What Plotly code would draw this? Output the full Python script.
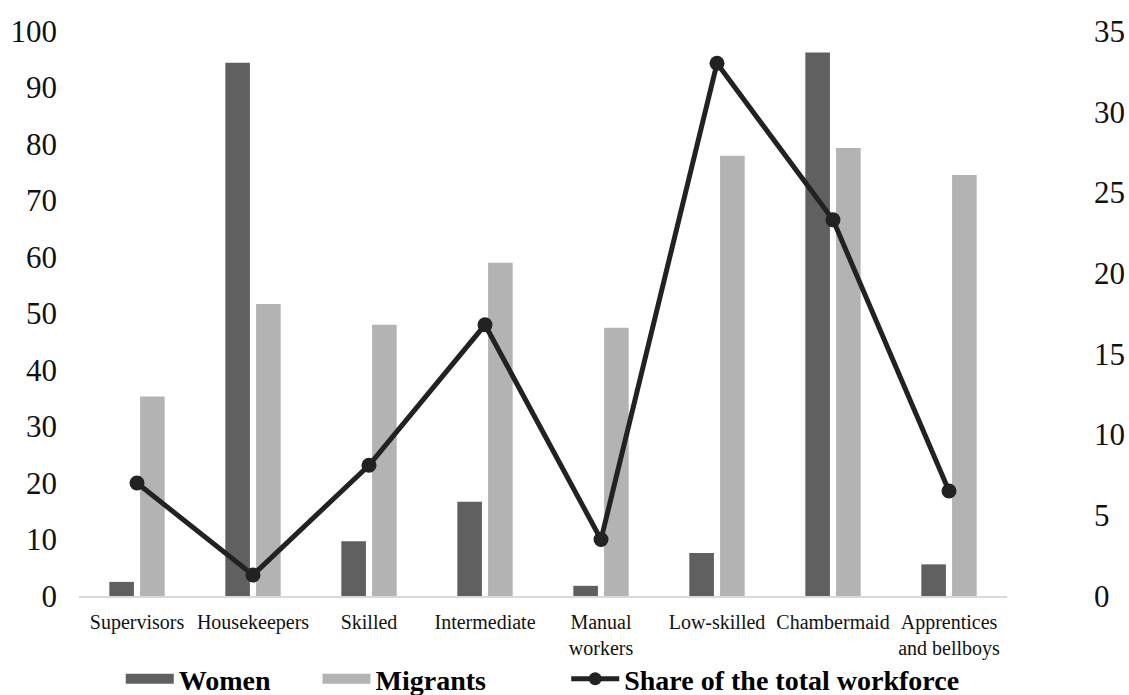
import plotly.graph_objects as go

categories = ["Supervisors", "Housekeepers", "Skilled", "Intermediate",
              "Manual<br>workers", "Low-skilled", "Chambermaid", "Apprentices<br>and bellboys"]
women = [2.5, 94.4, 9.7, 16.7, 1.8, 7.6, 96.2, 5.6]
migrants = [35.3, 51.7, 48.0, 59.0, 47.5, 77.9, 79.3, 74.5]
share_workforce = [7.0, 1.3, 8.1, 16.8, 3.5, 33.0, 23.3, 6.5]

left_ticks = [0, 10, 20, 30, 40, 50, 60, 70, 80, 90, 100]
right_ticks = [0, 5, 10, 15, 20, 25, 30, 35]

FONT = "Liberation Serif"
WOMEN_COLOR = "#606060"
MIGRANT_COLOR = "#b3b3b3"
LINE_COLOR = "#222222"

fig = go.Figure()
fig.add_trace(go.Bar(x=categories, y=women, name="Women", showlegend=False,
                     marker=dict(color=WOMEN_COLOR, line=dict(width=0))))
fig.add_trace(go.Bar(x=categories, y=migrants, name="Migrants", showlegend=False,
                     marker=dict(color=MIGRANT_COLOR, line=dict(width=0))))
fig.add_trace(go.Scatter(x=categories, y=share_workforce, name="Share of the total workforce",
                         yaxis="y2", mode="lines+markers", showlegend=False,
                         line=dict(color=LINE_COLOR, width=5),
                         marker=dict(color=LINE_COLOR, size=15)))

# legend-only proxies (no data) to get Excel-like wide legend keys
fig.add_trace(go.Scatter(x=[None], y=[None], name="Women", mode="lines", legend="legend",
                         line=dict(color=WOMEN_COLOR, width=16)))
fig.add_trace(go.Scatter(x=[None], y=[None], name="Migrants", mode="lines", legend="legend2",
                         line=dict(color=MIGRANT_COLOR, width=16)))
fig.add_trace(go.Scatter(x=[None], y=[None], name="Share of the total workforce",
                         mode="lines+markers", yaxis="y2", legend="legend3",
                         line=dict(color=LINE_COLOR, width=5),
                         marker=dict(color=LINE_COLOR, size=13)))

legend_common = dict(orientation="h", xanchor="left", yref="paper", y=-0.147, yanchor="middle",
                     font=dict(size=28, family=FONT, color="#000000", weight="bold"),
                     itemwidth=48, bgcolor="rgba(0,0,0,0)", borderwidth=0)

fig.update_layout(
    width=1129, height=695,
    margin=dict(l=79, r=122, t=31, b=99, autoexpand=False),
    paper_bgcolor="white", plot_bgcolor="white",
    font=dict(family=FONT, color="#111111"),
    barmode="group", bargap=0.47, bargroupgap=0.2,
    showlegend=True,
    legend=dict(x=0.045, **legend_common),
    legend2=dict(x=0.257, **legend_common),
    legend3=dict(x=0.525, **legend_common),
    xaxis=dict(showgrid=False, showline=True, linecolor="#d9d9d9", linewidth=2,
               ticks="", tickfont=dict(size=20, family=FONT, color="#111111"),
               tickangle=0, automargin=False, ticklabelstandoff=7),
    yaxis=dict(range=[0, 100], tickvals=left_ticks, showgrid=False, zeroline=False,
               showline=False, ticks="", ticklabelstandoff=21, automargin=False,
               tickfont=dict(size=31, family=FONT, color="#111111")),
    yaxis2=dict(range=[0, 35], tickvals=right_ticks, overlaying="y", side="right",
                showgrid=False, zeroline=False, showline=False, ticks="",
                ticklabelstandoff=86, automargin=False,
                tickfont=dict(size=31, family=FONT, color="#111111")),
)

fig.write_html("out.html", config={"displayModeBar": False},
               post_script="document.body.style.margin='0';")
